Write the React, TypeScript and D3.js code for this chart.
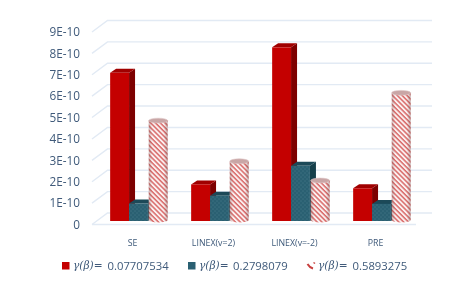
import React from 'react';
import { scaleBand, scaleLinear, range } from 'd3';

// data
const categories = ['SE', 'LINEX(v=2)', 'LINEX(v=-2)', 'PRE'];
const redValues = [6.93e-10, 1.71e-10, 8.12e-10, 1.53e-10];
const tealValues = [0.82e-10, 1.18e-10, 2.58e-10, 0.8e-10];
const stripeValues = [4.67e-10, 2.77e-10, 1.87e-10, 5.97e-10];
const tickValues = [0, 1e-10, 2e-10, 3e-10, 4e-10, 5e-10, 6e-10, 7e-10, 8e-10, 9e-10];
const tickLabels = ['0', '1E-10', '2E-10', '3E-10', '4E-10', '5E-10', '6E-10', '7E-10', '8E-10', '9E-10'];
const legendValues = ['0.07707534', '0.2798079', '0.5893275'];

const font = '"Open Sans", "Noto Sans", sans-serif';
const textColor = '#3f5a7a';
const gridColor = '#e2eaf4';
const depthX = 6;
const depthY = 4;

export default function App() {
  const maxTick = 9e-10;
  const yFront = scaleLinear().domain([0, maxTick]).range([224.5, 32]);
  const yBack = scaleLinear().domain([0, maxTick]).range([213, 20.5]);
  const yBar = scaleLinear().domain([0, maxTick]).range([221, 28.5]);

  const x0 = scaleBand<string>().domain(categories).range([98, 422]).paddingInner(0.3).paddingOuter(0.15);
  const x1 = scaleBand<number>().domain(range(3)).range([0, x0.bandwidth()]);
  const w = x1.bandwidth();

  const box = (x: number, top: number, front: string, side: string, lid: string, key: string) => {
    const base = yBar(0);
    return (
      <g key={key}>
        <path d={`M${x + w},${base} V${top} l${depthX},${-depthY} V${base - depthY} Z`} fill={side} />
        <path d={`M${x},${top} l${depthX},${-depthY} h${w} l${-depthX},${depthY} Z`} fill={lid} />
        <rect x={x} y={top} width={w} height={base - top} fill={front} />
      </g>
    );
  };

  const cylinder = (x: number, top: number, key: string) => {
    const base = yBar(0);
    const rx = w / 2;
    const ry = 2.4;
    const cy = top - 0.5;
    const body = `M${x},${cy} V${base - 1} A${rx},${ry} 0 0 0 ${x + w},${base - 1} V${cy} Z`;
    return (
      <g key={key}>
        <path d={body} fill="url(#stripes)" />
        <path d={body} fill="url(#shade)" />
        <ellipse cx={x + rx} cy={cy} rx={rx} ry={ry} fill="#c9a6a6" stroke="#dcc2c2" strokeWidth={0.6} />
      </g>
    );
  };

  return (
    <svg
      width={450}
      height={294}
      style={{ position: 'absolute', left: 0, top: 0, background: '#fff' }}
      fontFamily={font}
    >
      <defs>
        <pattern id="stripes" width={3.4} height={3.4} patternUnits="userSpaceOnUse" patternTransform="rotate(45)">
          <rect width={3.4} height={3.4} fill="#fbf0f0" />
          <rect width={3.4} height={1.5} fill="#d96a69" />
        </pattern>
        <pattern id="dots" width={4} height={4} patternUnits="userSpaceOnUse">
          <rect width={4} height={4} fill="#2a6072" />
          <circle cx={1} cy={1} r={0.45} fill="#6a9aa7" />
          <circle cx={3} cy={3} r={0.45} fill="#6a9aa7" />
        </pattern>
        <linearGradient id="shade" x1="0" x2="1" y1="0" y2="0">
          <stop offset="0" stopColor="#7a5050" stopOpacity={0.4} />
          <stop offset="0.18" stopColor="#7a5050" stopOpacity={0} />
          <stop offset="0.8" stopColor="#7a5050" stopOpacity={0} />
          <stop offset="1" stopColor="#7a5050" stopOpacity={0.45} />
        </linearGradient>
        <filter id="soft" x="-5%" y="-5%" width="110%" height="110%">
          <feGaussianBlur stdDeviation={0.4} />
        </filter>
      </defs>

      <g filter="url(#soft)">
        {/* grid */}
        {tickValues.map(v => (
          <path
            key={v}
            d={`M92,${yFront(v)} L107.5,${yBack(v)} H432`}
            fill="none"
            stroke={gridColor}
            strokeWidth={1.4}
          />
        ))}
        <line x1={92} x2={416} y1={yFront(0)} y2={yFront(0)} stroke={gridColor} strokeWidth={1.4} />

        {/* bars */}
        {categories.map((c, i) => {
          const gx = x0(c) as number;
          return (
            <g key={c}>
              {box(gx + (x1(0) as number), yBar(redValues[i]), '#c40000', '#7d0000', '#a00000', 'r')}
              {box(gx + (x1(1) as number), yBar(tealValues[i]), 'url(#dots)', '#173f4c', '#1c4a59', 't')}
              {cylinder(gx + (x1(2) as number) + 0.8, yBar(stripeValues[i]), 's')}
            </g>
          );
        })}

        {/* y axis labels */}
        {tickValues.map((v, i) => (
          <text key={v} x={80} y={yFront(v)} dy="0.36em" textAnchor="end" fontSize={11.8} fill={textColor}>
            {tickLabels[i]}
          </text>
        ))}

        {/* category labels */}
        {categories.map(c => (
          <text
            key={c}
            x={(x0(c) as number) + x0.bandwidth() / 2 - 6}
            y={243}
            dy="0.36em"
            textAnchor="middle"
            fontSize={8.8}
            fill={textColor}
          >
            {c}
          </text>
        ))}

        {/* legend */}
        <rect x={62} y={262} width={7.5} height={7.5} fill="#c40000" />
        <rect x={188} y={262} width={7.5} height={7.5} fill="#2a6072" />
        <path d="M307.5,264 Q309.5,267.5 313,268.5" fill="none" stroke="#c8413f" strokeWidth={2} />
        <path d="M313.5,262.5 L315,263.5" fill="none" stroke="#c8413f" strokeWidth={1.5} />
        {[73, 199, 318].map((x, i) => (
          <g key={x} fill={textColor}>
            <text x={x} y={265.5} dy="0.36em" fontFamily='"DejaVu Serif", serif' fontStyle="italic" fontSize={10.6}>
              γ(β)=
            </text>
            <text x={[107.5, 233, 352.5][i]} y={265.5} dy="0.36em" fontSize={11.3}>
              {legendValues[i]}
            </text>
          </g>
        ))}
      </g>
    </svg>
  );
}
